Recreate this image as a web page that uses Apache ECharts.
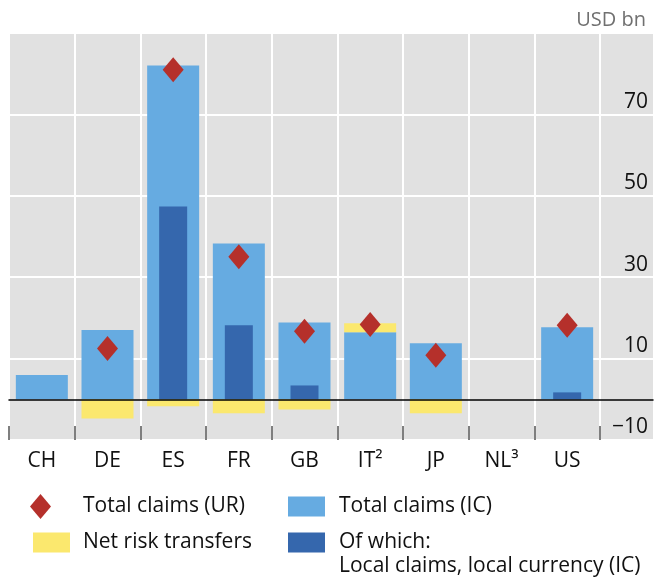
<!DOCTYPE html>
<html>
<head>
<meta charset="utf-8">
<script src="https://cdn.jsdelivr.net/npm/echarts@6/dist/echarts.min.js"></script>
<style>
    html, body { margin: 0; padding: 0; background: #ffffff; }
    #chart { width: 664px; height: 583px; }
</style>
</head>
<body>
<div id="chart"></div>
<script>
// 数据（从图上读取，USD bn）
const countries = ['CH', 'DE', 'ES', 'FR', 'GB', 'IT\u00b2', 'JP', 'NL\u00b3', 'US'];
const totalClaimsIC = [6, 17, 82, 38.3, 18.9, 16.5, 13.8, 0, 17.7];
const netRiskTransfers = [0, -4.7, -1.7, -3.4, -2.5, 2.2, -3.4, 0, 0];
const localClaimsIC = [0, 0, 47.4, 18.2, 3.4, 0, 0, 0, 1.7];
const totalClaimsUR = [null, 12.5, 81, 35, 16.7, 18.4, 10.8, null, 18.2];
const yTicks = [-10, 10, 30, 50, 70, 90];

const chart = echarts.init(document.getElementById('chart'));

const FONT = 'Open Sans';
const colors = {
    light: '#66abe1',
    dark: '#3567ad',
    yellow: '#fbe86e',
    red: '#b5302b',
    bg: '#e1e1e1'
};

// 右侧刻度文字
function tickLabel(v) {
    if (v === yTicks[yTicks.length - 1]) return '';
    return v < 0 ? '\u2212' + Math.abs(v) : String(v);
}

const legendText = { fontFamily: FONT, fontSize: 21, color: '#111111' };

chart.setOption({
    animation: false,
    backgroundColor: '#ffffff',
    title: {
        text: 'USD bn',
        right: 13,
        top: 5,
        textStyle: { fontFamily: FONT, fontSize: 20, fontWeight: 'normal', color: '#707070' }
    },
    grid: [
        // 整个灰色背景（含右侧刻度区）
        { left: 9, right: 11, top: 33, bottom: 143, show: true, backgroundColor: colors.bg, borderWidth: 0 },
        // 柱子所在区域
        { left: 9, width: 591, top: 33, bottom: 143 }
    ],
    xAxis: [
        {
            gridIndex: 0, type: 'value', min: 0, max: 1, z: 10,
            axisLine: { show: true, onZero: true, lineStyle: { color: '#000000', width: 1.5 } },
            axisTick: { show: false }, axisLabel: { show: false }, splitLine: { show: false }
        },
        {
            gridIndex: 1, type: 'category', data: countries,
            axisLine: { show: false, onZero: false },
            axisTick: { show: true, inside: true, length: 14, lineStyle: { color: '#555555', width: 1.5 } },
            axisLabel: { margin: 11, fontFamily: FONT, fontSize: 21, color: '#111111' },
            splitLine: { show: true, lineStyle: { color: '#ffffff', width: 2 } }
        },
        {
            gridIndex: 1, type: 'category', data: countries, show: false,
            axisLine: { onZero: false }
        }
    ],
    yAxis: [
        {
            gridIndex: 0, type: 'value', position: 'right',
            min: yTicks[0], max: yTicks[yTicks.length - 1], interval: 20,
            axisLine: { show: false }, axisTick: { show: false },
            axisLabel: {
                inside: true, margin: 5, verticalAlign: 'bottom', padding: [0, 0, 2, 0],
                fontFamily: FONT, fontSize: 21, color: '#111111',
                formatter: tickLabel
            },
            splitLine: { show: true, lineStyle: { color: '#ffffff', width: 2 } }
        },
        {
            gridIndex: 1, type: 'value', show: false,
            min: yTicks[0], max: yTicks[yTicks.length - 1], interval: 20,
            splitLine: { show: false }
        }
    ],
    legend: [
        {
            data: ['Total claims (UR)'], left: 30, top: 494, padding: 0,
            icon: 'diamond', itemWidth: 21, itemHeight: 25, symbolKeepAspect: false,
            textStyle: { ...legendText, padding: [0, 0, 0, 27] }
        },
        {
            data: ['Net risk transfers'], left: 33, top: 532, padding: 0,
            icon: 'rect', itemWidth: 37, itemHeight: 20,
            textStyle: { ...legendText, padding: [0, 0, 0, 8] }
        },
        {
            data: ['Total claims (IC)'], left: 288, top: 496, padding: 0,
            icon: 'rect', itemWidth: 37, itemHeight: 20,
            textStyle: { ...legendText, padding: [0, 0, 0, 9] }
        },
        {
            data: ['Local claims, local currency (IC)'], left: 288, top: 532, padding: 0,
            icon: 'rect', itemWidth: 37, itemHeight: 20,
            formatter: () => 'Of which:',
            textStyle: { ...legendText, padding: [0, 0, 0, 9] }
        }
    ],
    graphic: [{
        type: 'text', left: 339, top: 556,
        style: { text: 'Local claims, local currency (IC)', font: '21px "Open Sans"', fill: '#111111' }
    }],
    series: [
        {
            name: 'Total claims (IC)', type: 'bar', xAxisIndex: 1, yAxisIndex: 1,
            stack: 'total', barWidth: 52, data: totalClaimsIC,
            itemStyle: { color: colors.light }
        },
        {
            name: 'Net risk transfers', type: 'bar', xAxisIndex: 1, yAxisIndex: 1,
            stack: 'total', barWidth: 52, data: netRiskTransfers,
            itemStyle: { color: colors.yellow }
        },
        {
            name: 'Local claims, local currency (IC)', type: 'bar', xAxisIndex: 2, yAxisIndex: 1,
            barWidth: 28, data: localClaimsIC,
            itemStyle: { color: colors.dark }
        },
        {
            name: 'Total claims (UR)', type: 'scatter', xAxisIndex: 1, yAxisIndex: 1,
            symbol: 'diamond', symbolSize: [21, 25], z: 5, data: totalClaimsUR,
            itemStyle: { color: colors.red, opacity: 1 }
        }
    ]
});
</script>
</body>
</html>
